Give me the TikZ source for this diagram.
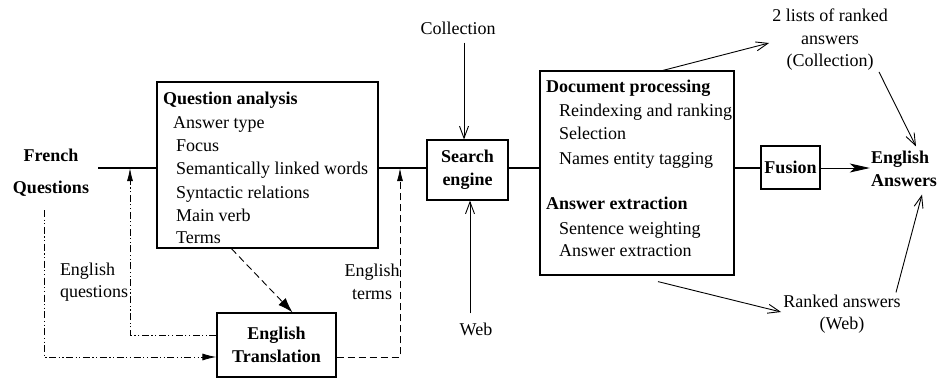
\documentclass[tikz,border=0pt]{standalone}
\usepackage{fontspec}
\setmainfont{Liberation Serif}
\usetikzlibrary{arrows.meta}
\tikzset{
  every node/.style={font=\fontsize{18}{22.5}\selectfont, inner sep=0pt},
  box/.style={draw, line width=1.2pt, font=\fontsize{18}{23}\selectfont\bfseries, align=center},
  lbl/.style={align=center},
  ln/.style={anchor=base west},
  hd/.style={anchor=base west, font=\fontsize{18}{23}\selectfont\bfseries},
  mainline/.style={line width=1.6pt},
  thin/.style={line width=0.9pt},
  openarr/.style={thin, -{Straight Barb[length=12pt,width=9pt,line width=0.9pt]}},
  fillarr/.style={-{Latex[length=13pt,width=6pt]}},
  dashdd/.style={thin, dash pattern=on 7pt off 2.5pt on 1.2pt off 2.5pt on 1.2pt off 2.5pt},
  dsh/.style={thin, dash pattern=on 7pt off 4pt},
}
\begin{document}
\begin{tikzpicture}[x=1pt,y=-1pt]
\useasboundingbox (0,0) rectangle (940,378);

% boxes
\node[box, minimum width=221pt, minimum height=166pt] (qa) at (267.5,165) {};
\node[box, minimum width=81pt, minimum height=60pt] (search) at (467.5,170) {Search\\engine};
\node[box, minimum width=194pt, minimum height=204pt] (doc) at (637,173) {};
\node[box, minimum width=59pt, minimum height=43pt] (fusion) at (790.5,167.5) {Fusion};
\node[box, minimum width=119pt, minimum height=64pt] (trans) at (276.5,345) {English\\Translation};

% question analysis text
\node[hd] (qa0) at (163,104) {Question analysis};
\node[ln] (qa1) at (173,128) {Answer type};
\node[ln] (qa2) at (176,151) {Focus};
\node[ln] (qa3) at (176,174) {Semantically linked words};
\node[ln] (qa4) at (176,198) {Syntactic relations};
\node[ln] (qa5) at (176,221) {Main verb};
\node[ln] (qa6) at (176,243) {Terms};

% document processing text
\node[hd] (dp0) at (546,92) {Document processing};
\node[ln] (dp1) at (559,116) {Reindexing and ranking};
\node[ln] (dp2) at (559,139) {Selection};
\node[ln] (dp3) at (559,164) {Names entity tagging};
\node[hd] (ae0) at (546,209) {Answer extraction};
\node[ln] (ae1) at (559,234) {Sentence weighting};
\node[ln] (ae2) at (559,256) {Answer extraction};

% free labels
\node[lbl, font=\fontsize{18}{32}\selectfont\bfseries] (fq) at (51,173) {French\\Questions};
\node[lbl, font=\fontsize{18}{23}\selectfont\bfseries, align=left] (ea) at (904,168.5) {English\\Answers};
\node[lbl] (col) at (458,28) {Collection};
\node[lbl] (web) at (476,329) {Web};
\node[lbl] (lists) at (830,40) {2 lists of ranked\\answers\\(Collection)};
\node[lbl] (ranked) at (842,314) {Ranked answers\\(Web)};
\node[lbl, align=left] (eq) at (94,282) {English\\questions};
\node[lbl] (et) at (372,282) {English\\terms};

% coordinates on main line
\coordinate (mainL) at (98,168);
\coordinate (eqTop) at (130,168);
\coordinate (etTop) at (400,168);
\coordinate (fqDown) at (44,210);

% main line
\draw[mainline] (mainL) -- (mainL -| qa.west);
\draw[mainline] (qa.east |- mainL) -- (search.west |- mainL);
\draw[mainline] (search.east |- mainL) -- (doc.west |- mainL);
\draw[mainline] (doc.east |- mainL) -- (fusion.west |- mainL);
\draw[thin, -{Stealth[length=20pt,width=9pt,inset=5pt]}] (fusion.east |- mainL) -- ([xshift=-1pt]ea.west |- mainL);

% collection / web
\draw[openarr] ([xshift=6pt]col.south) ++(0,8) -- ([xshift=6pt]col.south |- search.north);
\draw[openarr] ([xshift=-6pt]web.north) ++(0,-9) -- ([xshift=-6pt]web.north |- search.south);

% translation paths
\draw[dashdd, fillarr] ([yshift=10pt]trans.west) -| (eqTop);
\draw[dashdd, -{Latex[length=14pt,width=7pt]}] (fqDown) |- ([yshift=-12pt]trans.west);
\draw[dsh, fillarr] ([yshift=-12pt]trans.east) -| (etTop);
\draw[dsh, -{Latex[length=15pt,width=10pt]}] ([xshift=75pt]qa.south west) -- ([xshift=16pt]trans.north);

% output arrows
\draw[openarr] ([xshift=26pt]doc.north) -- ([xshift=-3pt,yshift=-3pt]lists.west);
\draw[openarr] ([xshift=49pt]lists.south) ++(0,1) -- ([xshift=12pt,yshift=4pt]ea.north);
\draw[openarr] ([xshift=21pt,yshift=-6pt]doc.south) -- ([xshift=-2pt,yshift=2pt]ranked.west);
\draw[openarr] ([xshift=54pt,yshift=2pt]ranked.north) -- ([xshift=18pt,yshift=-8pt]ea.south);
\end{tikzpicture}
\end{document}
